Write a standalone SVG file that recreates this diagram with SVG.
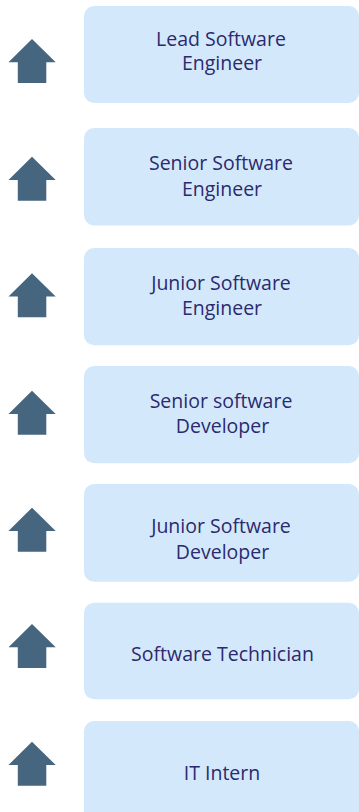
<svg xmlns="http://www.w3.org/2000/svg" xmlns:xlink="http://www.w3.org/1999/xlink" width="359" height="812" viewBox="0 0 359 812">
<style>
.box{fill:#d3e9fb;}
.arrow{fill:#46667f;}
.lbl{font-family:"Open Sans","Noto Sans","Liberation Sans",sans-serif;font-size:19.5px;fill:#2c2a6e;text-anchor:middle;}
</style>
<defs>
<path id="up" d="M32,0 L55.7,23.3 L46.3,23.3 L46.3,44 L17.8,44 L17.8,23.3 L8.5,23.3 Z"/>
</defs>
<rect width="359" height="812" fill="#ffffff"/>
<g id="node-lead">
<use xlink:href="#up" class="arrow" transform="translate(0,39)"/>
<rect class="box" x="84" y="6" width="275" height="97" rx="10"/>
<text class="lbl"><tspan x="221" y="45.5">Lead Software</tspan><tspan x="222" y="70">Engineer</tspan></text>
</g>
<g id="node-senior-se">
<use xlink:href="#up" class="arrow" transform="translate(0,156.7)"/>
<rect class="box" x="84" y="128" width="275" height="97.5" rx="10"/>
<text class="lbl"><tspan x="221" y="170.3">Senior Software</tspan><tspan x="222" y="195.5">Engineer</tspan></text>
</g>
<g id="node-junior-se">
<use xlink:href="#up" class="arrow" transform="translate(0,273.3)"/>
<rect class="box" x="84" y="248" width="275" height="97.3" rx="10"/>
<text class="lbl"><tspan x="221" y="290">Junior Software</tspan><tspan x="222" y="315">Engineer</tspan></text>
</g>
<g id="node-senior-dev">
<use xlink:href="#up" class="arrow" transform="translate(0,390.7)"/>
<rect class="box" x="84" y="366" width="275" height="97.3" rx="10"/>
<text class="lbl"><tspan x="221" y="408.3">Senior software</tspan><tspan x="222.5" y="433.3">Developer</tspan></text>
</g>
<g id="node-junior-dev">
<use xlink:href="#up" class="arrow" transform="translate(0,507.7)"/>
<rect class="box" x="84" y="484" width="275" height="97.7" rx="10"/>
<text class="lbl"><tspan x="221" y="533.3">Junior Software</tspan><tspan x="222.5" y="559">Developer</tspan></text>
</g>
<g id="node-technician">
<use xlink:href="#up" class="arrow" transform="translate(0,624)"/>
<rect class="box" x="84" y="602.7" width="275" height="96.6" rx="10"/>
<text class="lbl" x="222.5" y="661">Software Technician</text>
</g>
<g id="node-intern">
<use xlink:href="#up" class="arrow" transform="translate(0,741.7)"/>
<rect class="box" x="84" y="721" width="275" height="100" rx="10"/>
<text class="lbl" x="222" y="780">IT Intern</text>
</g>
<g id="connectors"></g>
</svg>
